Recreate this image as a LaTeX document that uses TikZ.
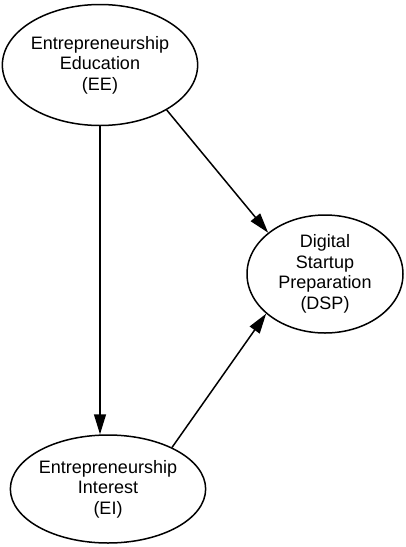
\documentclass[tikz,border=0pt]{standalone}
\usepackage{fontspec}
\setmainfont{Liberation Sans}
\usetikzlibrary{shapes.geometric,arrows.meta}

\tikzset{
    construct/.style={draw, ellipse, line width=1.5pt, inner sep=0pt, align=center,
        font=\fontsize{18}{20.5}\selectfont},
    path/.style={line width=1.5pt, -{Triangle[length=20pt,width=12pt]}}
}

\begin{document}
\begin{tikzpicture}[x=1pt,y=-1pt]
            \useasboundingbox[fill=white] (0,0) rectangle (405,547);

            % Constructs
            \node[construct, minimum width=168pt, minimum height=121pt] (EE) at (100,65)
                {Entrepreneurship\\Education\\(EE)};
            \node[construct, minimum width=156pt, minimum height=118pt] (DSP) at (325,274)
                {Digital\\Startup\\Preparation\\(DSP)};
            \node[construct, minimum width=167pt, minimum height=108pt] (EI) at (108,489)
                {Entrepreneurship\\Interest\\(EI)};

            % Paths
            \draw[path] (EE.south) -- (EE.south |- EI.north);
            \draw[path] (EE.-34) -- (DSP.144);
            \draw[path] (EI.33) -- (DSP.-146);
        \end{tikzpicture}
\end{document}
